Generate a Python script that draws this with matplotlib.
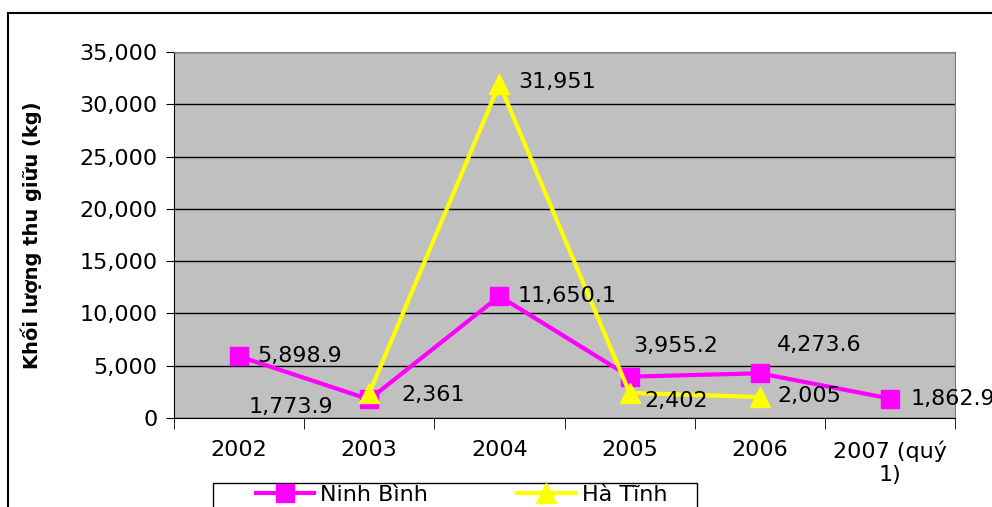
import matplotlib
matplotlib.use("Agg")
import matplotlib.pyplot as plt
from matplotlib.patches import Rectangle

plt.rcParams['font.family'] = ['DejaVu Sans']

# Dữ liệu
nam = ["2002", "2003", "2004", "2005", "2006", "2007 (quý\n1)"]
ninh_binh = [5898.9, 1773.9, 11650.1, 3955.2, 4273.6, 1862.9]
ha_tinh = [None, 2361, 31951, 2402, 2005, None]
nhan_nb = ["5,898.9", "1,773.9", "11,650.1", "3,955.2", "4,273.6", "1,862.9"]
nhan_ht = [None, "2,361", "31,951", "2,402", "2,005", None]

# vị trí nhãn (pixel) so với điểm
lech_nb = [(18, 0, 'left'), (-36, -8, 'right'), (18, 0, 'left'),
           (4, 31, 'left'), (17, 28, 'left'), (21, 0, 'left')]
lech_ht = [None, (32, -2, 'left'), (19, 2, 'left'), (15, -8, 'left'), (18, 1, 'left'), None]

fs = 16

fig = plt.figure(figsize=(9.92, 5.07), dpi=100)
ax = fig.add_axes([174 / 992, 1 - 418 / 507, 781 / 992, 366 / 507])
ax.set_facecolor('#C0C0C0')

x = list(range(len(nam)))
x_ht = [i for i in x if ha_tinh[i] is not None]
y_ht = [ha_tinh[i] for i in x_ht]

ax.plot(x, ninh_binh, color='#FF00FF', lw=3, marker='s', markersize=13,
        label='Ninh Bình', zorder=3)
ax.plot(x_ht, y_ht, color='#FFFF00', lw=3, marker='^', markersize=15,
        label='Hà Tĩnh', zorder=4)

for i in x:
    dx, dy, ha = lech_nb[i]
    ax.annotate(nhan_nb[i], (i, ninh_binh[i]), xytext=(dx, dy), textcoords='offset pixels',
                ha=ha, va='center', fontsize=fs, annotation_clip=False, zorder=5)
    if ha_tinh[i] is not None:
        dx, dy, ha = lech_ht[i]
        ax.annotate(nhan_ht[i], (i, ha_tinh[i]), xytext=(dx, dy), textcoords='offset pixels',
                    ha=ha, va='center', fontsize=fs, annotation_clip=False, zorder=5)

ax.set_xlim(-0.5, len(nam) - 0.5)
ax.set_ylim(0, 35000)
ax.set_yticks(range(0, 35001, 5000))
ax.set_yticklabels([f"{v:,}" for v in range(0, 35001, 5000)], fontsize=fs)
ax.yaxis.grid(True, color='black', lw=1)
ax.set_axisbelow(True)

ax.set_xticks(x)
ax.set_xticklabels(nam, fontsize=fs)
ax.set_xticks([i + 0.5 for i in range(-1, len(nam))], minor=True)
ax.tick_params(axis='x', which='major', length=0, pad=16)
ax.tick_params(axis='x', which='minor', length=8, direction='out', color='black')
ax.tick_params(axis='y', length=6, direction='out', pad=6)

for s in ['top', 'right']:
    ax.spines[s].set_color('#808080')
for s in ['left', 'bottom']:
    ax.spines[s].set_color('black')

ax.set_ylabel('Khối lượng thu giữu (kg)', fontsize=14, fontweight='bold', labelpad=27)

# chú thích
fig.legend(loc='upper left', bbox_to_anchor=(256 / 992, 1 - 485 / 507), ncol=2,
           fontsize=fs, frameon=False, borderaxespad=0, borderpad=0,
           handlelength=2.6, handletextpad=0.3, columnspacing=4.0)
fig.patches.append(Rectangle((213 / 992, -0.1), 484 / 992, 0.1 + 1 - 483 / 507,
                             transform=fig.transFigure, fill=False, edgecolor='black', lw=1))

# khung ngoài
fig.patches.append(Rectangle((8 / 992, -0.1), 1.2, 1.1 - 13 / 507, transform=fig.transFigure,
                             fill=False, edgecolor='black', lw=1.5))

fig.savefig('out.png', dpi=100)
